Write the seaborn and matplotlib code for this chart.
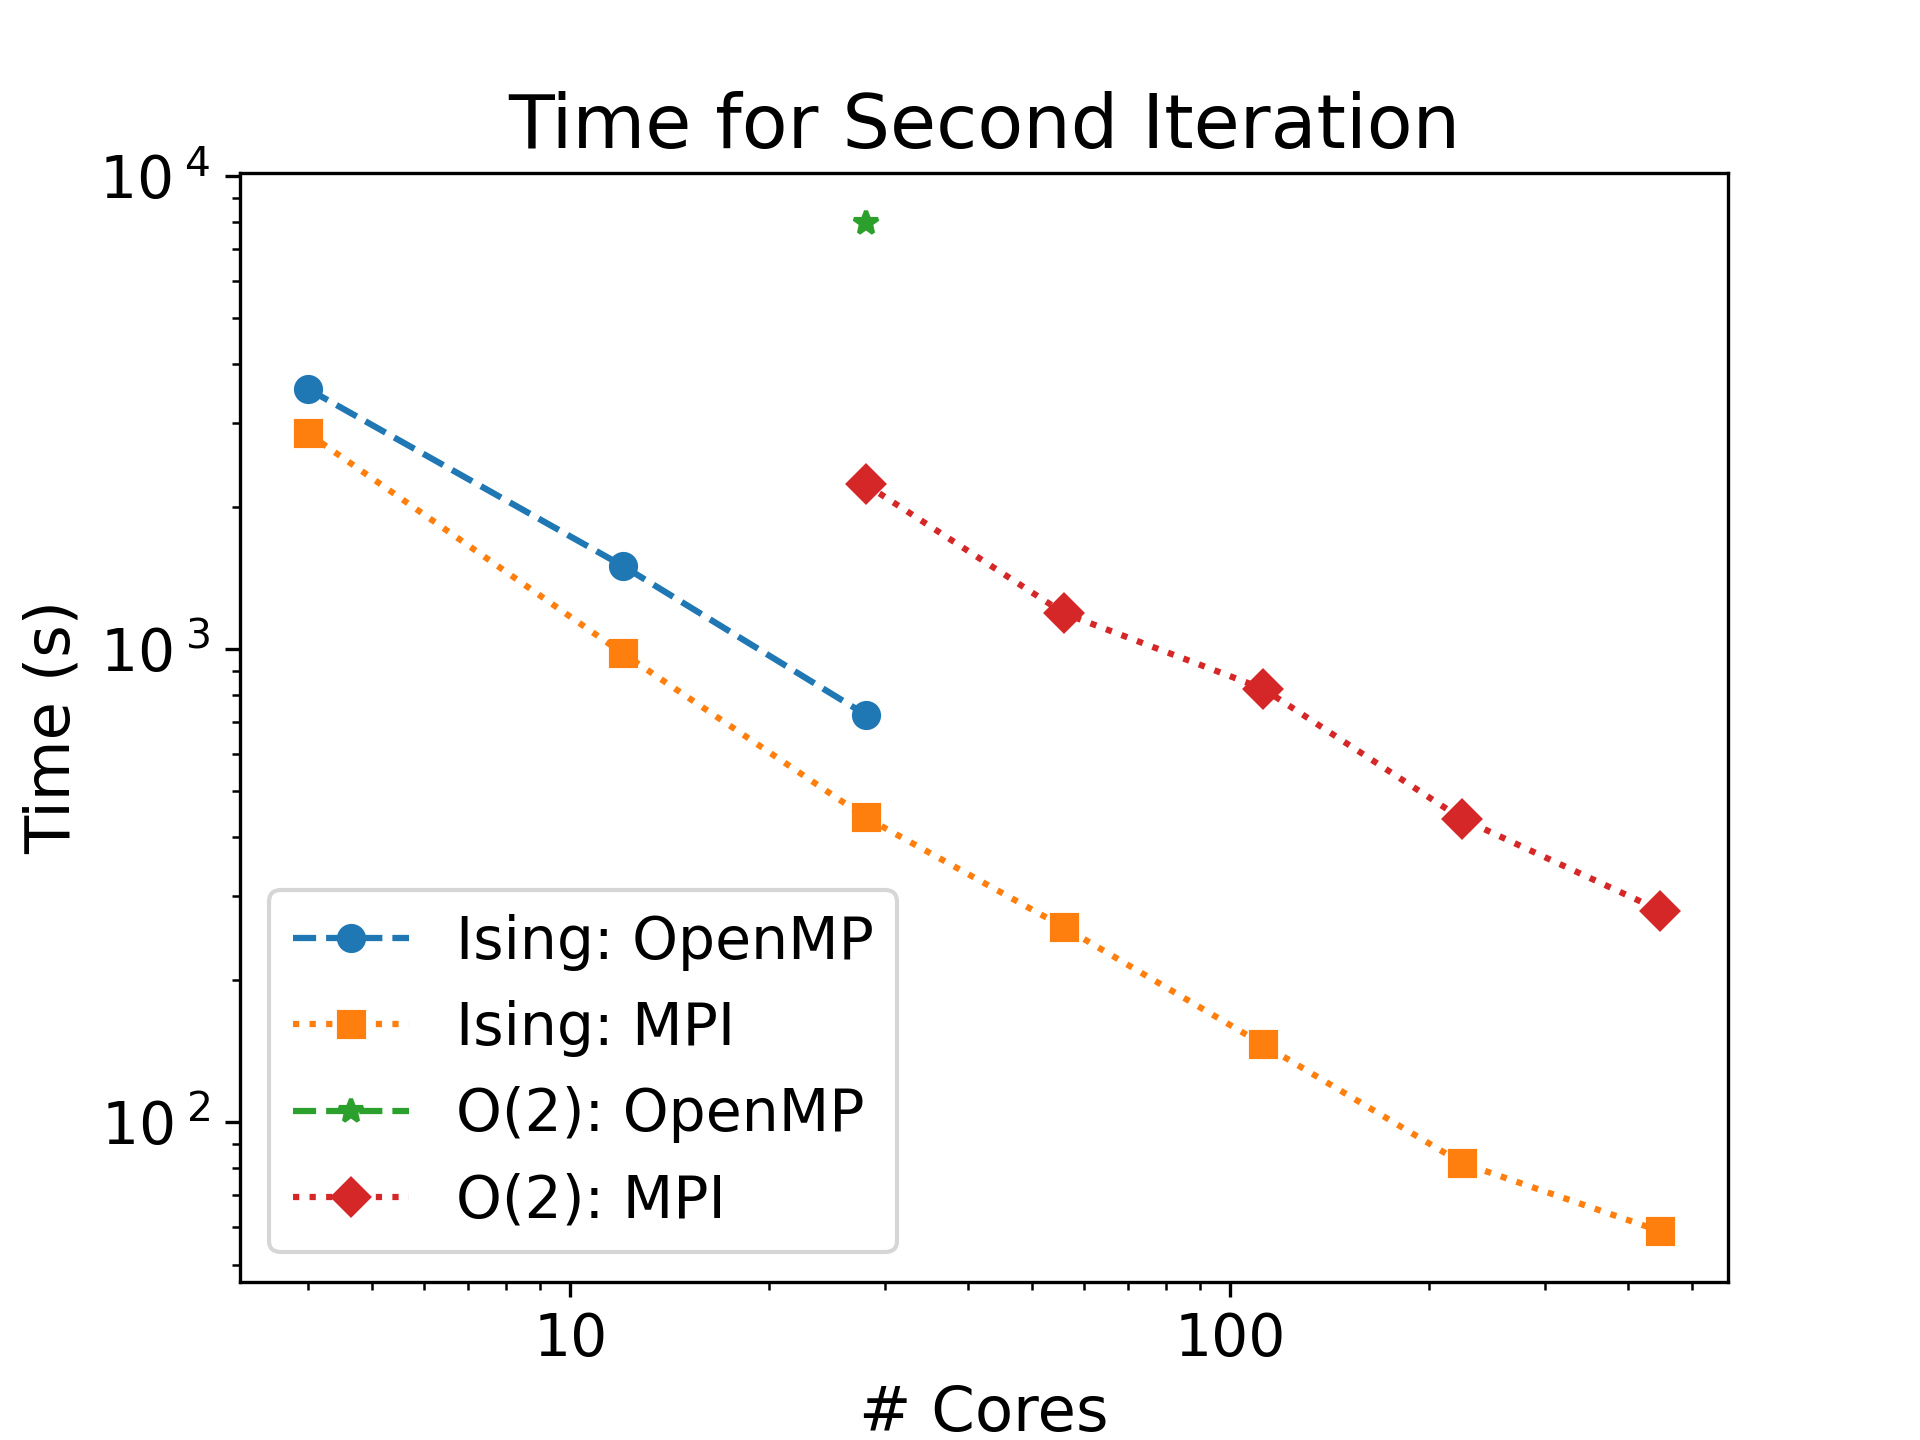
import matplotlib
matplotlib.use("Agg")
import matplotlib.pyplot as plt
import matplotlib.ticker as mticker
import seaborn as sns
import pandas as pd
import numpy as np

# Data
ising_omp_cores = [4, 12, 28]
ising_omp_time = [3550, 1500, 727]

ising_mpi_cores = [4, 12, 28, 56, 112, 224, 448]
ising_mpi_time = [2860, 980, 441, 258, 146, 82, 58.8]

o2_omp_cores = [28]
o2_omp_time = [7950]

o2_mpi_cores = [28, 56, 112, 224, 448]
o2_mpi_time = [2230, 1190, 825, 438, 280]

labels = ["Ising: OpenMP", "Ising: MPI", "O(2): OpenMP", "O(2): MPI"]

plt.rcParams["font.size"] = 14
plt.rcParams["font.family"] = ["DejaVu Sans"]

fig, ax = plt.subplots(figsize=(6.4, 4.8), dpi=300)

series = [
    (ising_omp_cores, ising_omp_time, labels[0], "C0", "o", "--"),
    (ising_mpi_cores, ising_mpi_time, labels[1], "C1", "s", ":"),
    (o2_omp_cores, o2_omp_time, labels[2], "C2", "*", "--"),
    (o2_mpi_cores, o2_mpi_time, labels[3], "C3", "D", ":"),
]

for xs, ys, lab, col, mk, ls in series:
    df = pd.DataFrame({"cores": xs, "time": ys})
    sns.lineplot(data=df, x="cores", y="time", ax=ax, label=lab, color=col,
                 marker=mk, linestyle=ls, markersize=6,
                 markeredgecolor=col, markeredgewidth=1, linewidth=1.5,
                 errorbar=None)

ax.set_xscale("log")
ax.set_yscale("log")
ax.xaxis.set_major_formatter(mticker.ScalarFormatter())
ax.xaxis.set_minor_formatter(mticker.NullFormatter())


def ylog_fmt(v, pos):
    e = int(round(np.log10(v)))
    return r"$\mathdefault{10^{\;%d}}$" % e


ax.yaxis.set_major_formatter(mticker.FuncFormatter(ylog_fmt))
ax.set_title("Time for Second Iteration", fontsize=18)
ax.set_xlabel("# Cores", fontsize=15)
ax.set_ylabel("Time (s)", fontsize=15)
ax.legend(loc="lower left")

fig.savefig("out.png", dpi=300)
